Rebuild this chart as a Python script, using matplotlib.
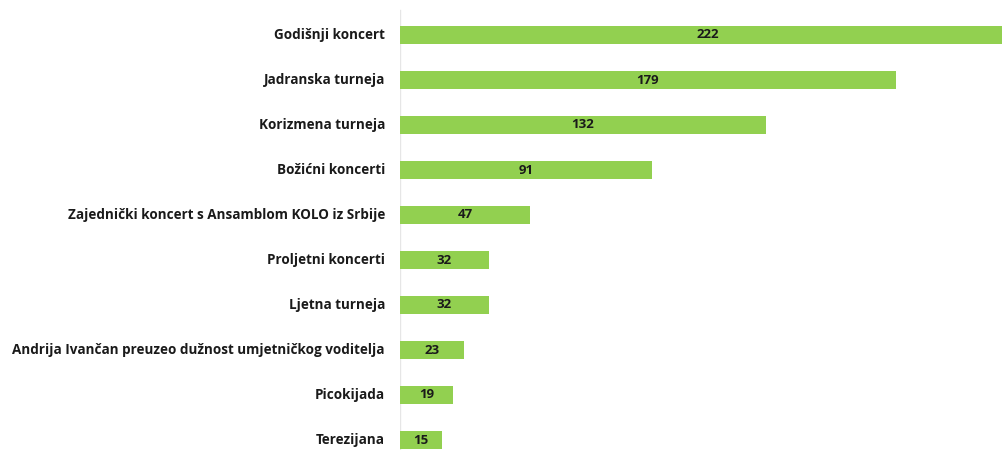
import matplotlib
matplotlib.use("Agg")
import matplotlib.pyplot as plt

# 数据
categories = [
    "Godišnji koncert",
    "Jadranska turneja",
    "Korizmena turneja",
    "Božićni koncerti",
    "Zajednički koncert s Ansamblom KOLO iz Srbije",
    "Proljetni koncerti",
    "Ljetna turneja",
    "Andrija Ivančan preuzeo dužnost umjetničkog voditelja",
    "Picokijada",
    "Terezijana",
]
values = [222, 179, 132, 91, 47, 32, 32, 23, 19, 15]

BAR_COLOR = "#92D050"
TEXT_COLOR = "#1a1a1a"
FONT = ["Open Sans", "DejaVu Sans"]

W, H = 1002, 450
fig = plt.figure(figsize=(W / 100, H / 100), dpi=100)
# 轴区域：左边界在 x=400 px，右侧到图边（最长的条被裁掉）
ax = fig.add_axes([400 / W, 0, 602 / W, 1])

pos = list(range(len(categories)))
ax.barh(pos, values, height=0.42, color=BAR_COLOR, edgecolor="none", zorder=2)

# 像素 -> 数据：条中心 y = 35 + 45*i
ax.set_ylim((H - 35) / 45, -35 / 45)
ax.set_xlim(0, 602 / 2.77)

for i, (lab, v) in enumerate(zip(categories, values)):
    ax.text(-15 / 2.77, i, lab, ha="right", va="center", fontsize=9.75,
            fontweight="bold", color=TEXT_COLOR, family=FONT, clip_on=False)
    ax.text(v / 2, i, str(v), ha="center", va="center", fontsize=9.5,
            fontweight="bold", color=TEXT_COLOR, family=FONT, zorder=3)

# 浅灰色竖轴线
ax.plot([0, 0], [(H - 35) / 45, (10 - 35) / 45], color="#e6e6e6", lw=1, zorder=1)

for s in ax.spines.values():
    s.set_visible(False)
ax.set_xticks([])
ax.set_yticks([])

fig.savefig("out.png", dpi=100)
